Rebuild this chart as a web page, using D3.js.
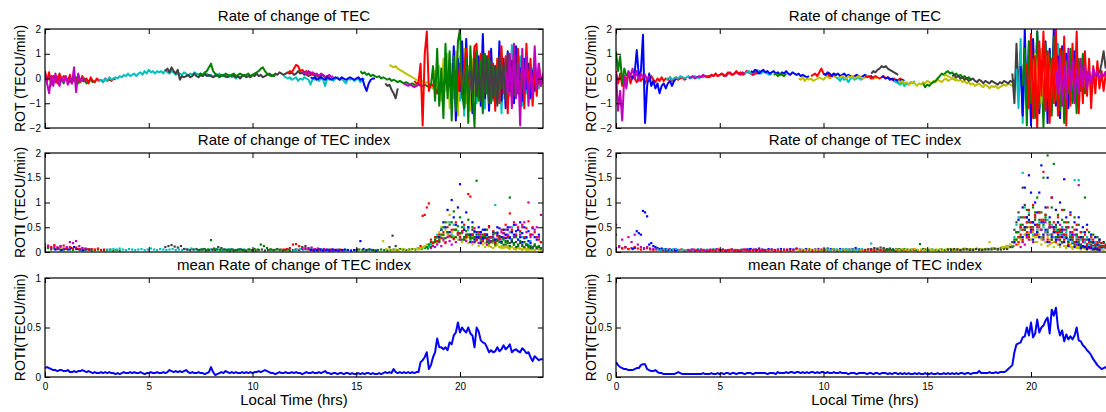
<!DOCTYPE html>
<meta charset="utf-8">
<style>
body { margin: 0; background: #fff; }
svg { font-family: "Liberation Sans", Arial, sans-serif; }
.tick text { font-size: 10px; fill: #000; }
.tick line { stroke: #000; }
.box { fill: none; stroke: #000; stroke-width: 1.2px; }
.ptitle { font-size: 15px; text-anchor: middle; }
.ylab { font-size: 14px; text-anchor: middle; }
.xlab { font-size: 15px; text-anchor: middle; }
</style>
<svg width="1106" height="412"></svg>
<script src="https://d3js.org/d3.v7.min.js"></script>
<script>
// colours of the satellite tracks (matlab default-ish)
var satColor = {b: "#0000ff", g: "#008000", r: "#ff0000", c: "#00bfbf", m: "#bf00bf", y: "#bfbf00", k: "#404040"};

var hourTicks = [0, 5, 10, 15, 20];
var rotTicks = [-2, -1, 0, 1, 2];
var rotiTicks = [0, 0.5, 1, 1.5, 2];
var meanTicks = [0, 0.5, 1];

// ---- ROT, left station: each arc = satellite colour, start hour, step (h), values
var rotLeft = [
  {c: "y", t0: 0.0, dt: 0.1, v: [0.05,-0.1,0.1,-0.05,0.0,-0.15,0.1,-0.05,0.0,-0.1]},
  {c: "g", t0: 0.3, dt: 0.1, v: [-0.1,0.1,-0.15,0.05,-0.1,0.0,-0.2,0.05,-0.05,-0.15,0.0,-0.1,0.05,-0.2,-0.05,-0.1,0.0,-0.2,-0.1,-0.05,-0.15,-0.1]},
  {c: "r", t0: 0.0, dt: 0.1, v: [0.3,-0.1,0.25,-0.25,0.1,0.0,-0.2,0.2,-0.1,0.1,0.05,-0.15,0.15,-0.2,0.1,-0.05,0.0,-0.15,0.1,-0.1,0.0,-0.2,0.05,-0.1,-0.15,0.0,-0.1,-0.05,-0.15,0.0,-0.1,-0.05,-0.1,0.0,-0.05]},
  {c: "m", t0: 0.0, dt: 0.1, v: [0.15,-0.2,-0.6,0.1,-0.3,0.2,-0.1,-0.3,0.05,-0.15,0.1,-0.25,0.0,-0.2,0.45,-0.55,0.2,-0.1,0.0,-0.15]},
  {c: "c", t0: 2.6, dt: 0.1, v: [-0.1,-0.05,-0.15,0.0,-0.1,0.05,-0.05,0.0,0.05,
    0.0,0.1,0.05,0.15,0.1,0.2,0.1,0.15,0.2,0.1,
    0.2,0.25,0.15,0.3,0.2,0.35,0.25,0.3,0.2,0.3,
    0.25,0.3,0.2,0.35,0.25,0.2,0.3,0.25,0.15,0.2,
    0.2,0.15,0.25,0.2,0.1,0.2,0.15,0.25,0.2,0.15,
    0.2,0.1,0.15,0.2,0.1,0.15,0.05,0.15,0.1,0.2,
    0.1,0.15,0.05,0.1,0.15,0.05,0.1,0.0,0.1,0.05,0.1]},
  {c: "k", t0: 5.8, dt: 0.1, v: [0.3,0.4,0.25,0.45,0.3,0.2,0.35,-0.05,0.1,0.05,
    0.1,0.15,0.05,0.1,0.2,0.1,0.05,0.15,0.1,0.2,
    0.1,0.15,0.1,0.05,0.1,0.15,0.05,0.1,0.15,0.1,
    0.05,0.1,0.15,0.1,0.05,0.1,0.0,0.1,0.15,0.05,
    0.1,0.05,0.15,0.1,0.2,0.1,0.15,0.05,0.1,0.15,
    0.2,0.15,0.1,0.2,0.15,0.25,0.2,0.15,0.2,0.25,
    0.2,0.25,0.15,0.2,0.3,0.2,0.25,0.15,0.2,0.1,
    0.15,0.2,0.1,0.15,0.05,0.1,0.15,0.05,0.1,0.0]},
  {c: "g", t0: 7.4, dt: 0.1, v: [0.15,0.2,0.15,0.25,0.3,0.45,0.6,0.3,0.2,0.15,0.1,0.15,0.1,0.2,0.15,0.1,0.15,0.2,0.1,0.15,0.2,0.15,0.1,0.15,0.2,0.1,0.15,0.2,0.25,0.3,0.4,0.45,0.3,0.2,0.15,0.1,0.15,0.1]},
  {c: "c", t0: 11.5, dt: 0.1, v: [0.1,0.05,0.0,0.05,-0.05,0.0,0.05,-0.1,0.0,-0.05,0.05,0.0,-0.05,-0.25,0.0,-0.05,0.05,-0.1,0.0,-0.05,-0.3,0.0,-0.05,0.0,-0.1,0.0,0.05,-0.05,0.0,-0.1,-0.2,0.0,-0.05,0.0,-0.1,-0.05,0.0,-0.15,-0.05,0.0]},
  {c: "r", t0: 11.7, dt: 0.1, v: [0.2,0.3,0.25,0.4,0.55,0.5,0.3,0.35,0.25,0.3,0.2,0.25,0.15,0.2,0.1]},
  {c: "m", t0: 12.4, dt: 0.1, v: [0.2,0.25,0.15,0.3,0.2,0.25,0.15,0.2,0.1,0.2,0.15,0.05,0.1,0.15,0.05,0.1]},
  {c: "b", t0: 12.8, dt: 0.1, v: [0.05,0.0,0.05,-0.05,0.0,0.05,0.0,-0.05,0.05,0.0,-0.05,0.0,0.05,0.0,-0.05,0.05,0.0,-0.05,0.0,0.05,0.0,-0.05,0.0,0.05,-0.05,0.0,-0.3,-0.5,-0.2,-0.05,0.0,0.0]},
  {c: "g", t0: 15.2, dt: 0.1, v: [0.3,0.2,0.25,0.15,0.2,0.1,0.15,0.1,0.05,0.1,0.0,0.05,0.0,-0.05,0.0,-0.1,-0.05,-0.1,-0.15,-0.1,-0.15,-0.2,-0.15,-0.2,-0.25,-0.2,-0.25,-0.3,-0.2,-0.25,-0.3,-0.25,-0.3,-0.35,-0.3,-0.4,-0.3]},
  {c: "k", t0: 16.4, dt: 0.1, v: [-0.2,-0.3,-0.25,-0.45,-0.6,-0.8,-0.4]},
  {c: "y", t0: 16.6, dt: 0.1, v: [0.55,0.5,0.45,0.5,0.4,0.35,0.3,0.25,0.2,0.15,0.1,0.05,0.0,-0.05,-0.1,-0.15,-0.1,-0.2,-0.15,-0.2,-0.25]},
  {c: "m", t0: 17.3, dt: 0.1, v: [-0.2,-0.25,-0.3,-0.25,-0.3,-0.35,-0.3,-0.25,-0.3,-0.35]},
  // scintillation period
  {c: "c", t0: 19.5, dt: 0.1, v: [0.2,-0.6,0.8,-1.1,0.5,-0.9,1.0,-1.5,0.7,-1.3,0.9,-0.6,1.2,-1.0,0.4,-0.8,0.6,-1.2,0.9,-0.5,0.7,-0.9,0.3,-0.6,1.0,-1.4,0.5,-0.3,0.8,-0.7,1.35,-0.9,0.6,-0.4,0.9,-1.1,0.5,-0.6,0.3,-0.5,0.4,-0.3,0.2,-0.4,0.1]},
  {c: "y", t0: 18.6, dt: 0.1, v: [-0.3,-0.4,0.3,-0.6,0.5,-0.9,0.8,-0.5,1.0,-1.2,0.6,-0.8,1.1,-1.5,0.9,-0.6,1.2,-1.0,0.5,-1.3,0.8,-0.7,1.0,-0.5,0.6,-1.1,0.9,-0.4,0.7,-0.9,0.5,-0.6,0.8,-0.3,0.4,-0.8,0.6,-0.2,0.3,-0.5,0.4,-0.2,0.3,-0.4,0.2,-0.1,0.3,-0.3,0.2,-0.1,0.0]},
  {c: "b", t0: 19.3, dt: 0.1, v: [0.0,-0.4,0.6,-0.9,1.3,-1.7,0.8,-0.5,1.5,-1.2,1.6,-0.9,0.7,-1.4,1.1,-0.6,0.9,-1.1,1.8,-0.8,0.6,-1.3,1.2,-0.7,0.5,-1.0,1.5,-0.9,0.8,-1.2,1.1,-0.5,0.7,-1.0,1.3,-0.6,0.4,-0.9,0.8,-0.4,0.6,-0.8,0.3,-0.5,0.2,-0.2]},
  {c: "r", t0: 17.8, dt: 0.1, v: [-0.1,-0.2,-0.15,0.6,-1.9,1.0,1.9,-0.5,-0.2,-0.3,-0.4,-0.6,-0.2,-0.5,-0.3,0.2,-0.4,-0.2,-0.6,0.0,0.3,-0.5,0.6,-0.8,0.4,1.2,-1.0,0.5,-0.6,1.3,1.4,-0.8,1.0,-1.2,0.7,-0.5,1.1,-0.9,0.6,-1.3,0.8,-1.0,1.3,-0.6,0.9,-1.4,0.5,-0.8,1.0,-0.6,1.2,-1.0,0.6,-1.2,1.4,-0.5,0.8,-1.1,0.4,-0.7,0.6,-0.3,0.2]},
  {c: "g", t0: 18.6, dt: 0.1, v: [-0.3,0.5,-0.9,1.2,-1.1,0.4,-1.6,1.4,-0.8,1.1,-1.7,0.9,-1.3,1.5,2.0,-0.6,-1.2,0.8,-1.8,1.3,-0.5,-1.95,1.1,-0.9,0.7,-1.4,1.0,-0.6,0.8,-1.0,0.5,-0.7,0.4,-0.5,0.2]},
  {c: "k", t0: 20.5, dt: 0.1, v: [0.3,-0.5,0.8,-0.7,0.4,-0.9,1.0,-0.6,0.9,-1.0,0.7,-0.8,0.5,-1.1,0.9,-0.4,0.6,-0.9,1.0,-0.5,0.4,-0.7,0.6,-0.3,0.2,-0.4,0.1]},
  {c: "m", t0: 22.2, dt: 0.1, v: [0.3,-0.6,1.0,-1.2,1.4,-0.8,0.6,-1.9,1.2,-0.5,0.9,-1.1,0.4,-0.7,1.3,-0.4,0.6,-0.3,0.2]}
];

// ---- ROT, right station
var rotRight = [
  {c: "r", t0: 0.0, dt: 0.1, v: [0.3,-0.2,0.2,-0.3,0.1,-0.1,0.25,-0.2,0.1,0.0,-0.15,0.1,-0.1,0.05,-0.2,0.0,-0.1,0.1,-0.05,-0.15,0.0,-0.1,0.05,-0.1,0.0,-0.05,0.05,-0.1,0.0,0.05,-0.05,0.0,0.05,-0.05,0.0]},
  {c: "g", t0: 0.0, dt: 0.1, v: [1.1,0.3,0.9,-0.2,0.4,0.1]},
  {c: "b", t0: 0.7, dt: 0.1, v: [0.1,0.0,0.2,1.15,0.1,0.3,1.77,-1.8,-0.3,0.2,-0.3,-0.1,-0.4,-0.2,-0.6,-0.3,-0.2,-0.4,-0.2,-0.1,-0.3,-0.1,0.0]},
  {c: "m", t0: 0.0, dt: 0.1, v: [0.2,-1.3,-0.5,-1.7,0.1,-0.4,0.3,0.1,0.4,0.0,0.3,-0.1,0.2,0.05,0.15,-0.05,0.1]},
  {c: "c", t0: 2.4, dt: 0.1, v: [-0.05,0.0,0.05,-0.05,0.0,0.05,0.0,0.1,0.05,0.0,0.05,0.1,0.0,0.05,0.1,0.05,0.0,0.1,0.05,0.1,0.05,0.1]},
  {c: "m", t0: 3.5, dt: 0.1, v: [0.0,0.05,0.1,0.0,0.05,0.1,0.05,0.15,0.1,0.05,0.1,0.15,0.1,0.2,0.1,0.15,0.2,0.15,0.1,0.2,0.25,0.15,0.2,0.25,0.2,0.15,0.25,0.2,0.3,0.25,0.2,0.15,0.2,0.25]},
  {c: "r", t0: 4.3, dt: 0.1, v: [0.05,0.1,0.05,0.15,0.1,0.2,0.1,0.15,0.2,0.1,0.15,0.25,0.2,0.15,0.2,0.3,0.2,0.25,0.15,0.2,0.3,0.25,0.2,0.15,0.25,0.2,0.3,0.2]},
  {c: "c", t0: 6.2, dt: 0.1, v: [0.2,0.25,0.3,0.2,0.25,0.3,0.35,0.25,0.2,0.3,0.25,0.2,0.15,0.2]},
  {c: "b", t0: 6.5, dt: 0.1, v: [0.3,0.25,0.35,0.3,0.2,0.3,0.35,0.25,0.3,0.2,0.25,0.3,0.2,0.25,0.15,0.25,0.2,0.3,0.2,0.15,0.25,0.2,0.15,0.2,0.1,0.15,0.1,0.05,0.1]},
  {c: "g", t0: 7.6, dt: 0.1, v: [0.15,0.2,0.1,0.2,0.15,0.1,0.2]},
  {c: "y", t0: 8.8, dt: 0.1, v: [0.0,-0.05,0.05,-0.1,0.0,-0.05,0.0,-0.1,-0.05,0.0,0.05,0.0,-0.05,0.05,0.1,0.0,0.05,0.1,0.05,0.0,0.05]},
  {c: "r", t0: 9.4, dt: 0.1, v: [0.1,0.15,0.2,0.1,0.25,0.4,0.2,0.15,0.2,0.1,0.15,0.2,0.1]},
  {c: "b", t0: 10.0, dt: 0.1, v: [0.2,0.15,0.25,0.2,0.1,0.2,0.15,0.2,0.1,0.15,0.2,0.1,0.15,0.1,0.05,0.1,0.15,0.1,0.05,0.1,0.15,0.1,0.05,0.1,0.0,0.05]},
  {c: "c", t0: 10.6, dt: 0.1, v: [0.05,0.0,-0.1,0.05,-0.05,0.0,-0.15,0.0,0.05,-0.05,0.0,0.05,-0.05,0.0,0.05]},
  {c: "y", t0: 10.8, dt: 0.1, v: [0.05,0.1,0.05,0.0,0.1,0.05,0.1,0.0,0.05,0.1,0.05,0.0,0.05,0.1,0.05,0.0,0.05,0.0,0.05]},
  {c: "r", t0: 12.0, dt: 0.1, v: [0.1,0.05,0.1,0.0,0.05,0.1,0.05,0.0,0.05,0.1,0.0,0.05,0.0,-0.05,0.0,-0.1,-0.05,0.0,-0.1]},
  {c: "k", t0: 12.3, dt: 0.1, v: [0.2,0.3,0.25,0.35,0.4,0.5,0.45,0.5,0.4,0.35,0.3,0.25,0.2,0.15]},
  {c: "b", t0: 12.8, dt: 0.1, v: [0.1,0.05,0.0,0.05,-0.05,0.0,-0.1,-0.05,-0.15,-0.1,-0.05,-0.1]},
  {c: "c", t0: 13.4, dt: 0.1, v: [-0.1,-0.15,-0.2,-0.25,-0.15,-0.3,-0.2,-0.25,-0.15,-0.2,-0.1]},
  {c: "y", t0: 13.6, dt: 0.1, v: [-0.1,-0.15,-0.1,-0.2,-0.15,-0.25,-0.2,-0.15,-0.2,-0.3,-0.2,-0.25,-0.15,-0.2,-0.1,-0.15,-0.2,-0.1,-0.15,-0.05,-0.1,-0.15,-0.05,0.0,-0.1,-0.05,0.0,-0.05,-0.1]},
  {c: "g", t0: 14.8, dt: 0.1, v: [-0.2,-0.35,-0.25,-0.3,-0.2,-0.15,-0.1,0.0,0.1,0.2,0.15,0.25,0.3,0.2,0.25,0.15,0.2,0.1,0.15,0.05,0.1,0.0,0.05,-0.05,0.0]},
  {c: "y", t0: 15.8, dt: 0.1, v: [0.1,0.15,0.1,0.05,0.0,0.05,-0.05,-0.1,-0.05,-0.15,-0.1,-0.2,-0.15,-0.25,-0.2,-0.3,-0.25,-0.2,-0.3,-0.35,-0.25,-0.3,-0.4,-0.3,-0.35,-0.3,-0.4,-0.35,-0.3,-0.25,-0.3,-0.2,-0.25,-0.3,-0.2]},
  {c: "k", t0: 16.2, dt: 0.1, v: [0.1,0.15,0.05,0.1,0.0,0.05,-0.05,0.0,-0.1,-0.05,0.0,-0.1,-0.15,-0.05,-0.1,-0.2,-0.1,-0.15,-0.2,-0.1,-0.15,-0.2,-0.25,-0.15,-0.2,-0.1,-0.15,-0.2,-0.1,-0.15,-0.05]},
  // scintillation period
  {c: "k", t0: 19.1, dt: 0.1, v: [0.2,-1.0,1.4,-0.6,1.1,-1.4,0.8,-1.2,1.5,-0.9,0.5,-0.8,0.3,-0.5,0.2]},
  {c: "c", t0: 19.3, dt: 0.1, v: [0.4,-1.2,1.6,-1.8,1.0,-0.7,1.3,-1.5,0.6,-1.0,1.7,-0.8,1.2,-1.6,0.9,-0.5,1.1,-1.3,0.7,-0.9,1.4,-0.6,0.8,-1.1,0.5,-0.4,0.9,-0.7,0.3,-0.2]},
  {c: "b", t0: 19.5, dt: 0.1, v: [0.5,-1.5,2.0,-1.2,1.0,-1.9,1.6,-0.8,1.9,-1.4,0.7,-1.0,1.5,-1.8,1.2,-0.6,2.0,-1.1,0.9,-1.6,1.3,-0.7,1.0,-1.2,0.6,-0.9,1.1,-0.5,0.4,-0.3]},
  {c: "g", t0: 19.6, dt: 0.1, v: [-0.3,1.2,-1.9,1.5,-1.0,0.8,-1.6,1.9,-1.2,0.6,-1.95,1.4,-0.8,1.0,-1.5,1.7,-0.9,0.5,-1.3,1.1,-1.8,0.7,-0.6,1.2,-1.0,0.4,-1.4,0.8,-0.5,1.0,-0.6,0.3]},
  {c: "y", t0: 20.0, dt: 0.1, v: [0.5,-0.8,1.0,-0.6,1.2,-1.0,0.7,-0.4,0.9,-1.1,0.6,-0.5,1.1,-0.9,0.4,-0.7,0.8,-0.5,1.0,-0.8,0.5,-0.3,0.7,-0.6,0.4,-0.5,0.3,-0.2,0.2,-0.1]},
  {c: "r", t0: 19.8, dt: 0.1, v: [0.6,-1.2,1.8,-1.6,0.9,-2.0,1.5,-0.7,1.9,-1.3,1.1,-1.8,0.8,-1.0,2.0,-1.5,1.2,-0.6,1.7,-1.9,0.9,-1.1,1.4,-0.8,1.9,-1.4,0.6,-1.0,1.1,-0.7,0.8,-1.2,0.5,-0.6,0.7,-0.4,0.3,-0.5,0.2,-0.1]},
  {c: "m", t0: 21.2, dt: 0.1, v: [0.3,-0.6,0.9,-1.1,0.5,-0.8,1.2,-0.5,0.7,-1.0,0.4,-0.6,0.8,-0.3,0.5,-0.4,0.3,-0.2,0.4,0.1,0.3,0.0,0.2,0.1,0.3]},
  {c: "k", t0: 23.3, dt: 0.1, v: [0.2,0.6,1.1,0.4]}
];

// ---- ROTI, left station
var rotiLeft = [
  {c: "y", t0: 0.0, dt: 0.15, v: [0.08,0.1,0.07,0.09,0.06,0.08,0.05,0.07,0.06,0.05]},
  {c: "g", t0: 0.0, dt: 0.15, v: [0.06,0.08,0.05,0.07,0.06,0.04,0.05,0.07,0.05,0.04,0.06,0.05,0.03,0.04,0.05,0.03,0.04,0.05,0.04,0.03,0.04,0.05,0.03,0.04,0.03]},
  {c: "b", t0: 0.5, dt: 0.15, v: [0.05,0.07,0.04,0.06,0.05,0.08,0.1,0.06,0.05,0.04,0.06,0.05]},
  {c: "r", t0: 0.0, dt: 0.15, v: [0.15,0.12,0.1,0.14,0.09,0.11,0.13,0.08,0.1,0.07,0.09,0.06,0.08,0.07,0.05,0.06,0.05,0.07,0.04,0.05]},
  {c: "m", t0: 0.0, dt: 0.15, v: [0.1,0.13,0.08,0.11,0.09,0.12,0.07,0.1,0.2,0.18,0.22,0.12,0.08,0.06]},
  {c: "c", t0: 3.0, dt: 0.15, v: [0.05,0.04,0.06,0.05,0.07,0.05,0.04,0.06,0.05,0.04,0.05,0.06,0.04,0.05,0.07,0.05,0.04,0.06,0.05,0.04,0.05,0.06,0.04,0.05,0.04,0.06,0.05,0.07,0.05,0.04,0.05,0.06,0.04,0.05,0.04,0.06,0.05,0.04,0.05,0.06,0.05,0.04,0.05,0.06,0.05]},
  {c: "k", t0: 5.8, dt: 0.15, v: [0.1,0.12,0.14,0.11,0.09,0.12,0.06,0.05,0.04,0.05,0.06,0.04,0.05,0.03,0.04,0.05,0.04,0.1,0.08,0.05,0.04,0.05,0.03,0.04,0.05,0.04,0.03,0.05,0.04,0.03,0.04,0.05,0.03,0.04,0.05,0.04,0.06,0.05,0.04,0.05,0.03,0.04,0.05,0.04,0.1,0.12,0.08,0.05,0.04,0.03,0.04,0.05]},
  {c: "g", t0: 7.4, dt: 0.15, v: [0.04,0.05,0.06,0.05,0.24,0.07,0.05,0.04,0.05,0.04,0.03,0.05,0.04,0.05,0.04,0.03,0.05,0.04,0.06,0.05,0.15,0.12,0.08,0.05,0.04,0.05,0.04,0.03,0.04,0.05]},
  {c: "c", t0: 12.0, dt: 0.15, v: [0.04,0.05,0.06,0.04,0.05,0.07,0.05,0.04,0.06,0.05,0.04,0.05,0.03,0.04,0.05,0.04,0.03,0.04]},
  {c: "r", t0: 11.5, dt: 0.15, v: [0.05,0.06,0.08,0.15,0.16,0.12,0.08,0.06,0.05,0.04,0.05,0.06,0.04,0.05,0.04,0.05,0.03,0.04,0.05,0.04]},
  {c: "m", t0: 12.4, dt: 0.15, v: [0.06,0.08,0.07,0.09,0.06,0.07,0.05,0.06,0.05,0.04,0.05,0.04]},
  {c: "b", t0: 12.8, dt: 0.15, v: [0.04,0.03,0.04,0.05,0.03,0.04,0.03,0.05,0.04,0.03,0.04,0.05,0.04,0.03,0.04,0.05,0.22,0.06,0.04,0.05,0.04,0.03]},
  {c: "g", t0: 15.0, dt: 0.15, v: [0.04,0.05,0.04,0.03,0.05,0.04,0.03,0.04,0.05,0.04,0.03,0.04,0.05,0.04,0.06,0.05,0.04,0.05,0.06,0.05,0.07,0.06,0.08,0.07,0.1]},
  {c: "y", t0: 16.3, dt: 0.15, v: [0.22,0.06,0.05,0.04,0.05,0.04,0.06,0.05,0.04,0.05,0.06,0.08,0.07,0.1]},
  {c: "k", t0: 16.6, dt: 0.15, v: [0.1,0.33,0.12]},
  // scintillation period
  {c: "y", t0: 18.0, dt: 0.1, v: [0.05,0.08,0.1,0.12,0.15,0.12,0.18,0.2,0.22,0.18,0.25,0.3,0.22,0.28,0.35,0.3,0.4,0.32,0.45,0.35,0.3,0.4,0.28,0.35,0.3,0.25,0.32,0.28,0.22,0.3,0.2,0.25,0.18,0.22,0.15,0.2,0.18,0.12,0.15,0.1,0.12,0.08,0.1,0.12,0.08,0.1,0.06,0.08,0.1,0.07,0.05,0.08,0.06,0.05,0.07,0.05,0.04,0.06,0.05,0.04]},
  {c: "y", t0: 18.5, dt: 0.1, v: [0.15,0.2,0.18,0.25,0.3,0.4,0.5,0.35,0.45,0.6,0.75,0.4,0.3,0.45,0.25,0.35,0.2,0.3,0.25,0.18,0.22,0.15,0.2,0.25,0.12,0.18,0.15,0.1,0.14,0.12,0.1,0.08,0.12,0.15,0.1,0.08,0.12,0.1,0.08,0.06,0.1,0.07,0.05,0.08,0.06,0.05,0.07,0.04,0.06,0.05]},
  {c: "c", t0: 18.5, dt: 0.1, v: [0.1,0.15,0.2,0.25,0.35,0.3,0.45,0.28,0.5,0.4,0.6,0.35,0.55,0.3,0.42,0.25,0.38,0.5,0.3,0.45,0.25,0.35,0.2,0.3,0.4,0.28,0.22,0.35,0.3,0.25,0.2,0.3,0.95,0.4,0.3,0.25,0.45,0.35,0.28,0.4,0.5,0.3,0.35,0.25,0.4,0.3,0.2,0.28,0.15,0.22,0.1,0.15,0.08,0.12]},
  {c: "k", t0: 20.0, dt: 0.1, v: [0.3,0.4,0.25,0.35,0.5,0.3,0.45,0.2,0.35,0.28,0.4,0.25,0.32,0.2,0.3,0.22,0.35,0.18,0.25,0.3,0.2,0.28,0.15,0.22,0.18,0.25,0.15,0.2,0.12,0.18,0.15,0.1,0.14,0.12,0.08,0.1,0.12,0.08,0.1,0.07]},
  {c: "g", t0: 18.8, dt: 0.1, v: [0.2,0.3,0.25,0.35,0.5,0.28,0.4,0.32,0.6,0.45,0.3,0.52,0.38,0.25,0.45,0.3,0.65,0.35,0.28,0.4,0.25,0.35,0.2,0.3,0.45,0.25,0.18,0.3,0.22,0.15,0.25,0.2,0.3,0.15,0.22,0.18,0.12,0.2,0.15,0.1]},
  {c: "b", t0: 20.5, dt: 0.1, v: [0.2,0.35,0.25,0.4,0.3,0.18,0.45,0.28,0.35,0.22,0.3,0.4,0.25,0.5,0.32,0.2,0.38,0.28,0.45,0.3,0.22,0.35,0.42,0.25,0.3,0.2,0.28,0.15,0.22,0.18]},
  {c: "m", t0: 18.6, dt: 0.1, v: [0.08,0.12,0.1,0.15,0.2,0.12,0.25,0.18,0.3,0.22,0.15,0.28,0.2,0.35,0.25,0.4,0.3,0.22,0.35,0.28,0.2,0.3,0.25,0.18,0.35,0.22,0.3,0.15,0.25,0.2,0.3,0.22,0.35,0.25,0.4,0.3,0.45,0.35,0.5,0.4,0.3,0.55,0.45,0.35,0.5,0.6,0.4,1.0,0.3,0.35,0.45,0.5,0.3,0.75]},
  {c: "b", t0: 19.0, dt: 0.1, v: [0.3,0.45,0.6,0.5,0.85,0.4,1.05,0.7,0.55,0.9,1.37,0.6,0.45,0.8,0.5,0.35,0.6,0.42,0.3,0.5,0.4,0.28,0.45,0.35,0.52,0.3,0.4,0.25,0.38,0.48,0.3,0.45,0.35,0.5,0.28,0.4,0.55,0.32,0.45,0.6,0.38,0.5,0.3,0.42,0.35,0.48,0.3,0.25,0.35,0.2]},
  {c: "g", t0: 18.4, dt: 0.1, v: [0.1,0.15,0.2,0.18,0.25,0.3,0.22,0.45,0.35,0.6,0.4,0.55,0.3,0.82,0.45,0.38,0.7,0.5,0.3,0.42,0.35,0.28,0.5,0.3,1.44,0.4,0.25,0.35,0.3,0.45,0.2,0.3,0.25,0.38,0.22,0.3,0.18,0.25,0.2,0.32,1.1,0.25,0.18,0.3,0.15,0.22,0.12,0.2,0.15,0.1,0.12,0.08,0.15,0.1,0.12,0.08]},
  {c: "r", t0: 18.1, dt: 0.1, v: [0.12,0.73,0.75,0.9,0.98,0.25,0.18,0.3,0.22,0.35,0.28,0.4,0.2,0.5,0.33,0.45,0.26,0.6,0.38,0.3,0.42,0.55,0.3,1.17,1.12,0.35,0.48,0.25,0.4,0.3,0.22,0.36,0.28,0.5,0.3,0.42,0.2,0.32,0.26,0.45,0.38,0.55,0.3,0.78,0.45,0.6,0.35,0.5,0.42,0.55,0.3,0.48,0.62,0.35,0.5,0.4,0.3,0.25,0.2]}
];

// ---- ROTI, right station
var rotiRight = [
  {c: "g", t0: 0.0, dt: 0.15, v: [0.35,0.12,0.08,0.1,0.06]},
  {c: "r", t0: 0.0, dt: 0.15, v: [0.08,0.1,0.07,0.09,0.06,0.08,0.1,0.07,0.05,0.06,0.08,0.05,0.04,0.06,0.05,0.04,0.03,0.05,0.04,0.03,0.04,0.05,0.03,0.04,0.03,0.05,0.04,0.03,0.04,0.03]},
  {c: "m", t0: 0.0, dt: 0.15, v: [0.55,0.12,0.25,0.1,0.3,0.2,0.35,0.15,0.1,0.08,0.1,0.07,0.06,0.05]},
  {c: "b", t0: 0.8, dt: 0.1, v: [0.06,0.08,0.42,0.38,0.35,0.83,0.8,0.72,0.15,0.18,0.12,0.1,0.08,0.06,0.07,0.05,0.06,0.04,0.05,0.04,0.05,0.04]},
  {c: "c", t0: 2.0, dt: 0.15, v: [0.05,0.04,0.06,0.05,0.04,0.05,0.06,0.04,0.05,0.03,0.04,0.05,0.04,0.06,0.05,0.04,0.05,0.04,0.06,0.05,0.04,0.05,0.03,0.04,0.05,0.04,0.03,0.05,0.04,0.05]},
  {c: "m", t0: 3.5, dt: 0.15, v: [0.04,0.05,0.03,0.04,0.05,0.04,0.03,0.05,0.04,0.06,0.04,0.05,0.03,0.04,0.05,0.04,0.03,0.04,0.05,0.04,0.06,0.05,0.04,0.03,0.04]},
  {c: "b", t0: 6.3, dt: 0.15, v: [0.05,0.06,0.04,0.05,0.07,0.05,0.04,0.06,0.05,0.04,0.05,0.06,0.05,0.04,0.06,0.05,0.07,0.05,0.04,0.06,0.05,0.04,0.05,0.06,0.04,0.05,0.07,0.06,0.05,0.04,0.06,0.05,0.04,0.05,0.06,0.08,0.06,0.05,0.04,0.05]},
  {c: "r", t0: 4.5, dt: 0.15, v: [0.03,0.04,0.03,0.05,0.04,0.03,0.04,0.05,0.03,0.04,0.03,0.05,0.04,0.03,0.04,0.03,0.05,0.04,0.03,0.04,0.05,0.03,0.04,0.03,0.04,0.05,0.03,0.04,0.06,0.04,0.03,0.04,0.05,0.03,0.04,0.03,0.05,0.04,0.03,0.04,0.05,0.03,0.04,0.03,0.05,0.04,0.03,0.04,0.03,0.04]},
  {c: "y", t0: 8.8, dt: 0.15, v: [0.04,0.05,0.04,0.06,0.05,0.04,0.05,0.03,0.04,0.05,0.04,0.06,0.05,0.04,0.05,0.04,0.03,0.05,0.04,0.05,0.04,0.03,0.04,0.05,0.04,0.03,0.04,0.05,0.04,0.03]},
  {c: "c", t0: 10.2, dt: 0.15, v: [0.05,0.04,0.06,0.05,0.04,0.05,0.06,0.04,0.05,0.04,0.05,0.06,0.04,0.05,0.17,0.06,0.05,0.04,0.05,0.04,0.05,0.06,0.04,0.05,0.04]},
  {c: "r", t0: 12.0, dt: 0.15, v: [0.04,0.05,0.04,0.03,0.05,0.04,0.03,0.04,0.05,0.04,0.03,0.05,0.04,0.03,0.04,0.05,0.04,0.03,0.04,0.05]},
  {c: "k", t0: 12.3, dt: 0.15, v: [0.06,0.08,0.07,0.09,0.08,0.06,0.07,0.05,0.06,0.05]},
  {c: "g", t0: 13.0, dt: 0.15, v: [0.04,0.05,0.04,0.03,0.05,0.04,0.06,0.05,0.04,0.05,0.04,0.16,0.06,0.05,0.04,0.05,0.04,0.03,0.05,0.04,0.05,0.06,0.04,0.05,0.04,0.06,0.05,0.04,0.05,0.06,0.04,0.05,0.06,0.05,0.07,0.06,0.05,0.08,0.06,0.07]},
  {c: "y", t0: 13.5, dt: 0.15, v: [0.05,0.04,0.06,0.05,0.04,0.05,0.06,0.04,0.05,0.04,0.06,0.05,0.04,0.05,0.06,0.04,0.05,0.06,0.05,0.04,0.06,0.05,0.07,0.05,0.06,0.05,0.07,0.06,0.05,0.06,0.2,0.08,0.06,0.07,0.1,0.08,0.12,0.1]},
  {c: "k", t0: 16.0, dt: 0.15, v: [0.05,0.04,0.06,0.05,0.04,0.05,0.06,0.05,0.04,0.06,0.05,0.04,0.05,0.06,0.05,0.07,0.06,0.05,0.08,0.06,0.1,0.12]},
  // scintillation period
  {c: "y", t0: 18.6, dt: 0.1, v: [0.08,0.1,0.12,0.1,0.15,0.12,0.18,0.25,0.2,0.3,0.22,0.35,0.28,0.4,0.25,0.32,0.2,0.3,0.45,0.25,0.35,0.2,0.3,0.15,0.25,0.2,0.3,0.15,0.22,0.18,0.25,0.12,0.2,0.15,0.1,0.18,0.12,0.08,0.15,0.1,0.12,0.08,0.1,0.06,0.08,0.05,0.07,0.06,0.05,0.04]},
  {c: "y", t0: 19.4, dt: 0.1, v: [0.15,0.25,0.2,0.35,0.3,0.5,0.25,0.4,0.3,0.2,0.35,0.15,0.28,0.2,0.12,0.25,0.18,0.1,0.22,0.15,0.1,0.18,0.12,0.08,0.15,0.1,0.06,0.12,0.08,0.1,0.05,0.08,0.06,0.04,0.07,0.05,0.06,0.04,0.05,0.04]},
  {c: "k", t0: 19.1, dt: 0.1, v: [0.2,0.45,0.6,0.8,0.7,1.3,0.95,0.5,0.75,0.4,0.6,0.35,0.55,0.8,0.45,0.3,0.65,0.4,0.5,0.25,0.4,0.55,0.3,0.45,0.2,0.35,0.5,0.25,0.4,0.3,0.2,0.35,0.25,0.15,0.3,0.2,0.1,0.25,0.15,0.12,0.3,0.1,0.25,0.18,0.12]},
  {c: "m", t0: 19.5, dt: 0.1, v: [0.1,0.2,0.15,0.3,0.25,0.4,0.2,0.35,0.5,0.3,0.45,0.25,0.6,0.35,0.2,0.5,0.3,0.4,0.25,0.55,0.35,0.45,0.3,0.2,0.4,0.25,0.35,0.15,1.35,0.3,0.2,0.25,0.15,0.2,0.12,0.18,0.1,0.15,0.08,0.12,0.1,0.08]},
  {c: "g", t0: 19.3, dt: 0.1, v: [0.25,0.4,0.3,0.55,0.45,0.7,0.35,0.6,0.5,0.8,0.4,0.65,0.3,0.55,0.75,0.45,0.6,0.35,0.5,0.3,0.45,0.25,0.4,0.6,0.3,0.2,0.35,0.25,0.15,0.3,0.2,0.12,0.25,0.1,0.15,0.2,0.1,0.08,0.12,0.06]},
  {c: "r", t0: 19.4, dt: 0.1, v: [0.2,0.35,0.25,0.5,0.4,0.3,0.6,0.45,0.75,0.35,0.5,0.3,0.65,0.4,0.25,0.55,0.35,0.45,0.2,0.4,0.3,0.5,0.25,0.35,0.15,0.3,0.4,0.2,0.25,0.15,0.3,0.1,0.2,0.15,0.08,0.12,0.1,0.06,0.08,0.05]},
  {c: "b", t0: 19.6, dt: 0.1, v: [0.3,0.5,0.35,0.65,0.45,0.25,0.55,0.4,0.3,0.6,0.35,0.45,0.2,0.5,0.3,0.4,0.25,0.35,0.15,0.3,0.2,0.28,0.12,0.25,0.18,0.1,0.2,0.15,0.08,0.12,0.1,0.06,0.1,0.08,0.05,0.07,0.05,0.04]},
  {c: "c", t0: 19.2, dt: 0.1, v: [0.3,0.55,0.7,0.45,1.6,0.9,0.6,0.8,0.5,0.35,0.7,0.45,0.6,0.3,0.5,0.4,0.65,0.35,0.55,0.3,0.45,0.6,0.35,0.5,0.3,0.4,0.25,0.35,0.2,1.45,0.3,1.45,0.25,0.4,0.2,0.3,0.15,0.25,0.1,0.2,0.12,0.15,0.08,0.1]},
  {c: "b", t0: 19.2, dt: 0.1, v: [0.2,0.4,0.65,0.5,0.9,1.3,0.7,1.55,1.2,0.6,1.0,0.8,1.2,1.75,0.6,0.9,1.5,0.7,1.1,0.5,0.85,0.6,1.0,0.45,1.47,0.7,0.5,0.8,0.35,0.6,0.45,0.7,0.3,0.5,0.4,0.55,0.25,0.35,0.2,0.3,0.15,0.25,0.1,0.2,0.12]},
  {c: "g", t0: 19.1, dt: 0.1, v: [0.1,0.25,0.4,0.3,0.55,0.7,0.45,0.85,0.6,0.5,0.9,0.65,1.1,0.55,0.8,1.5,0.7,1.95,0.6,0.9,1.78,0.5,0.75,0.4,0.65,0.85,0.45,0.6,0.3,0.5,0.7,0.35,0.55,0.4,0.3,1.1,0.25,0.4,0.2,0.35,0.15,0.3,0.2,0.12,0.18,0.1]},
  {c: "r", t0: 19.3, dt: 0.1, v: [0.15,0.3,0.5,0.45,0.7,0.6,0.85,0.5,0.95,0.7,0.55,0.8,0.65,1.62,0.75,0.9,0.5,1.1,0.6,0.4,0.7,0.45,0.85,0.35,0.6,0.5,0.75,0.3,0.45,0.55,0.3,0.4,0.25,0.35,0.45,0.2,0.3,0.25,0.15,0.2,0.12,0.18,0.1,0.15,0.08]}
];

// ---- mean ROTI, one value every 0.1 h from 0 to 24 h
var meanStep = 0.1;
var meanLeft = [
  0.09,0.1,0.09,0.08,0.07,0.07,0.06,0.07,0.07,0.06,
  0.06,0.07,0.05,0.05,0.06,0.05,0.06,0.06,0.07,0.06,
  0.05,0.06,0.05,0.04,0.05,0.04,0.04,0.05,0.04,0.05,
  0.04,0.05,0.04,0.04,0.03,0.04,0.03,0.04,0.05,0.04,
  0.04,0.05,0.04,0.05,0.04,0.04,0.05,0.04,0.03,0.04,
  0.04,0.05,0.04,0.04,0.05,0.04,0.04,0.05,0.04,0.05,
  0.07,0.06,0.05,0.06,0.05,0.06,0.05,0.06,0.07,0.05,
  0.04,0.05,0.04,0.04,0.05,0.04,0.04,0.03,0.04,0.05,
  0.1,0.05,0.02,0.03,0.04,0.05,0.04,0.06,0.05,0.04,
  0.05,0.04,0.05,0.04,0.04,0.05,0.04,0.05,0.04,0.05,
  0.04,0.05,0.05,0.06,0.05,0.06,0.07,0.06,0.05,0.04,
  0.04,0.03,0.04,0.05,0.04,0.04,0.05,0.04,0.04,0.05,
  0.04,0.05,0.04,0.04,0.03,0.04,0.05,0.04,0.04,0.05,
  0.04,0.04,0.05,0.04,0.05,0.06,0.04,0.04,0.03,0.04,
  0.04,0.03,0.04,0.04,0.03,0.04,0.04,0.03,0.04,0.03,
  0.03,0.04,0.03,0.04,0.03,0.04,0.04,0.03,0.04,0.03,
  0.03,0.04,0.03,0.04,0.05,0.04,0.05,0.04,0.08,0.05,
  0.04,0.05,0.04,0.05,0.04,0.05,0.04,0.05,0.04,0.05,
  0.05,0.15,0.17,0.2,0.25,0.08,0.12,0.2,0.25,0.39,
  0.3,0.3,0.28,0.3,0.27,0.35,0.33,0.42,0.45,0.55,
  0.45,0.5,0.47,0.45,0.5,0.44,0.42,0.3,0.5,0.46,
  0.37,0.35,0.34,0.3,0.25,0.27,0.25,0.26,0.3,0.26,
  0.28,0.32,0.28,0.3,0.33,0.25,0.27,0.28,0.26,0.25,
  0.29,0.27,0.24,0.25,0.2,0.16,0.21,0.19,0.17,0.18,
  0.18];
var meanRight = [
  0.15,0.12,0.1,0.09,0.08,0.08,0.07,0.07,0.07,0.08,
  0.09,0.09,0.12,0.13,0.13,0.08,0.07,0.06,0.06,0.07,
  0.05,0.04,0.04,0.03,0.03,0.03,0.03,0.03,0.03,0.04,
  0.05,0.04,0.03,0.03,0.03,0.03,0.03,0.03,0.03,0.03,
  0.03,0.03,0.04,0.03,0.03,0.03,0.04,0.03,0.03,0.04,
  0.03,0.04,0.03,0.04,0.04,0.03,0.04,0.04,0.03,0.04,
  0.04,0.04,0.03,0.04,0.04,0.04,0.03,0.04,0.04,0.04,
  0.04,0.04,0.04,0.03,0.04,0.04,0.04,0.03,0.05,0.04,
  0.04,0.04,0.05,0.04,0.05,0.05,0.04,0.05,0.05,0.04,
  0.05,0.04,0.05,0.04,0.05,0.05,0.04,0.05,0.04,0.05,
  0.05,0.04,0.05,0.04,0.04,0.05,0.04,0.04,0.05,0.04,
  0.04,0.04,0.03,0.04,0.04,0.04,0.03,0.04,0.04,0.04,
  0.04,0.03,0.04,0.04,0.03,0.04,0.04,0.03,0.04,0.04,
  0.04,0.03,0.04,0.03,0.04,0.04,0.03,0.04,0.03,0.04,
  0.03,0.04,0.03,0.03,0.04,0.03,0.04,0.03,0.03,0.04,
  0.03,0.03,0.04,0.03,0.03,0.04,0.03,0.03,0.04,0.03,
  0.04,0.03,0.04,0.03,0.04,0.03,0.04,0.04,0.03,0.04,
  0.04,0.03,0.04,0.04,0.04,0.06,0.04,0.04,0.04,0.04,
  0.05,0.04,0.04,0.05,0.04,0.05,0.05,0.05,0.06,0.08,
  0.1,0.12,0.25,0.33,0.34,0.35,0.4,0.41,0.5,0.42,
  0.55,0.4,0.44,0.58,0.45,0.5,0.52,0.57,0.6,0.44,
  0.68,0.62,0.7,0.5,0.42,0.47,0.36,0.43,0.38,0.41,
  0.38,0.42,0.5,0.37,0.36,0.32,0.3,0.27,0.25,0.22,
  0.18,0.15,0.12,0.1,0.08,0.09,0.1,0.08,0.09,0.1,
  0.1];

var svg = d3.select("svg");
var panelW = 498, panelH = 99;
var colX = [45, 616];
var rowY = [29, 153, 278];

function minusFmt(d) {
  var s = d3.format("~g")(d);
  return s.replace("-", "\u2212");
}

function panel(px, py, yDomain, yTicks, title, ylabel, withXLabels, ylabelBoldI) {
  var x = d3.scaleLinear().domain([0, 24]).range([px, px + panelW]);
  var y = d3.scaleLinear().domain(yDomain).range([py + panelH, py]);
  var g = svg.append("g");

  var id = "clip" + px + "_" + py;
  svg.append("clipPath").attr("id", id)
    .append("rect").attr("x", px).attr("y", py).attr("width", panelW).attr("height", panelH);
  var plot = g.append("g").attr("clip-path", "url(#" + id + ")");

  // ticks inside the box, matlab style
  g.append("g").attr("transform", "translate(" + px + ",0)")
    .call(d3.axisLeft(y).tickValues(yTicks).tickSize(-5).tickPadding(4).tickFormat(minusFmt));
  g.append("g").attr("transform", "translate(" + (px + panelW) + ",0)")
    .call(d3.axisRight(y).tickValues(yTicks).tickSize(-5).tickFormat(""));
  g.append("g").attr("transform", "translate(0," + py + ")")
    .call(d3.axisTop(x).tickValues(hourTicks).tickSize(-5).tickFormat(""));
  g.append("g").attr("transform", "translate(0," + (py + panelH) + ")")
    .call(d3.axisBottom(x).tickValues(hourTicks).tickSize(-5).tickPadding(6)
      .tickFormat(withXLabels ? d3.format("d") : ""));
  g.selectAll(".domain").remove();

  g.append("rect").attr("class", "box")
    .attr("x", px).attr("y", py).attr("width", panelW).attr("height", panelH);

  g.append("text").attr("class", "ptitle")
    .attr("x", px + panelW / 2).attr("y", py - 8).text(title);

  var yl = g.append("text").attr("class", "ylab")
    .attr("transform", "translate(" + (px - 20) + "," + (py + panelH / 2) + ") rotate(-90)");
  if (ylabelBoldI) {
    yl.append("tspan").text("ROT");
    yl.append("tspan").attr("font-weight", "bold").text("I");
    yl.append("tspan").text(ylabel);
  } else {
    yl.text(ylabel);
  }

  if (withXLabels) {
    g.append("text").attr("class", "xlab")
      .attr("x", px + panelW / 2).attr("y", py + panelH + 28).text("Local Time (hrs)");
  }
  return {x: x, y: y, plot: plot};
}

function drawRot(p, arcs) {
  var line = function (a) {
    return d3.line()
      .x(function (v, i) { return p.x(a.t0 + i * a.dt); })
      .y(function (v) { return p.y(v); })(a.v);
  };
  p.plot.selectAll("path.rot").data(arcs).enter().append("path")
    .attr("class", "rot")
    .attr("d", line)
    .attr("fill", "none")
    .attr("stroke", function (a) { return satColor[a.c]; })
    .attr("stroke-width", 2)
    .attr("stroke-linejoin", "round");
}

function drawRoti(p, arcs) {
  arcs.forEach(function (a) {
    p.plot.append("g").selectAll("rect").data(a.v).enter().append("rect")
      .attr("x", function (v, i) { return p.x(a.t0 + i * a.dt) - 1.1; })
      .attr("y", function (v) { return p.y(v) - 1.1; })
      .attr("width", 2.2).attr("height", 2.2)
      .attr("fill", satColor[a.c]);
  });
}

function drawMean(p, vals) {
  p.plot.append("path")
    .attr("d", d3.line()
      .x(function (v, i) { return p.x(i * meanStep); })
      .y(function (v) { return p.y(v); })(vals))
    .attr("fill", "none")
    .attr("stroke", "#0000ff")
    .attr("stroke-width", 2)
    .attr("stroke-linejoin", "round");
}

var stations = [
  {rot: rotLeft, roti: rotiLeft, mean: meanLeft},
  {rot: rotRight, roti: rotiRight, mean: meanRight}
];

stations.forEach(function (s, k) {
  var px = colX[k];
  var p1 = panel(px, rowY[0], [-2, 2], rotTicks, "Rate of change of TEC", "ROT (TECU/min)", false, false);
  drawRot(p1, s.rot);
  var p2 = panel(px, rowY[1], [0, 2], rotiTicks, "Rate of change of TEC index", " (TECU/min)", false, true);
  drawRoti(p2, s.roti);
  var p3 = panel(px, rowY[2], [0, 1], meanTicks, "mean Rate of change of TEC index", "(TECU/min)", true, true);
  drawMean(p3, s.mean);
});
</script>
